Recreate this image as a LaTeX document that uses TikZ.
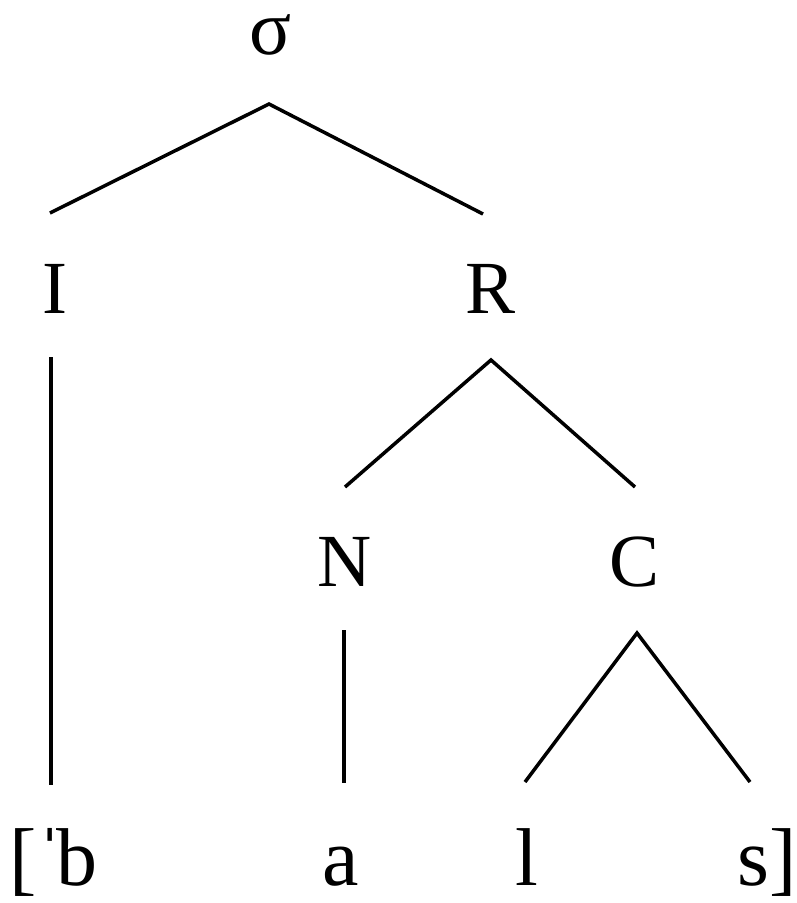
\documentclass[tikz,border=0pt]{standalone}
\usepackage{fontspec}
\setmainfont{Liberation Serif}
\begin{document}
\begin{tikzpicture}[x=1pt,y=-1pt,
  caplbl/.style={inner sep=0pt,anchor=base,font=\fontsize{75}{80}\selectfont},
  lowlbl/.style={inner sep=0pt,anchor=base,text height=0.55em,text depth=0pt,font=\fontsize{82}{86}\selectfont},
  toplbl/.style={inner sep=0pt,anchor=base,text height=0.5em,text depth=0pt,font=\fontsize{78}{82}\selectfont},
  branch/.style={line width=3.5pt,line cap=butt,line join=miter}]
\useasboundingbox (0,0) rectangle (796,903);
% labels
\node[toplbl] (sigma) at (271,54) {σ};
\node[caplbl] (I) at (55,313) {I};
\node[caplbl] (R) at (491,313) {R};
\node[caplbl] (N) at (345,586) {N};
\node[caplbl] (C) at (635,586) {C};
\node[lowlbl,anchor=base west] (b) at (9,885) {[ˈ\kern-0.09em b};
\node[lowlbl] (a) at (341,885) {a};
\node[lowlbl] (l) at (527,885) {l};
\node[lowlbl,anchor=base east] (s) at (797,885) {s]};
% branch points
\coordinate (sigmaTop) at (269,104);
\coordinate (sigmaL) at (50,213);
\coordinate (sigmaR) at (483,214);
\coordinate (Itop) at (51,357);
\coordinate (Ibot) at (51,785);
\coordinate (Rtop) at (491,360);
\coordinate (RL) at (345,487);
\coordinate (RR) at (635,487);
\coordinate (Ntop) at (344,630);
\coordinate (Nbot) at (344,783);
\coordinate (Ctop) at (637,633);
\coordinate (CL) at (525,782);
\coordinate (CR) at (750,782);
% branches
\draw[branch] (sigmaL) -- (sigmaTop) -- (sigmaR);
\draw[branch] (Itop) -- (Ibot);
\draw[branch] (RL) -- (Rtop) -- (RR);
\draw[branch] (Ntop) -- (Nbot);
\draw[branch] (CL) -- (Ctop) -- (CR);
\end{tikzpicture}
\end{document}
